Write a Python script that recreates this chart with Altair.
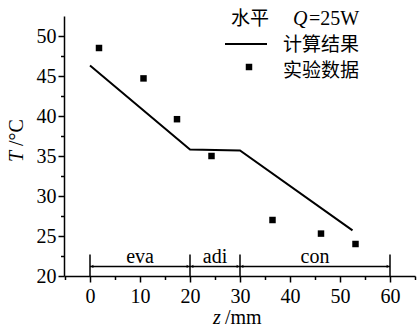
import altair as alt
import pandas as pd

# ---- data ----
z_exp = [1.8, 10.7, 17.4, 24.3, 36.5, 46.2, 53.1]
T_exp = [48.5, 44.7, 39.6, 35.0, 27.0, 25.3, 24.0]
z_calc = [0, 20, 30, 52.5]
T_calc = [46.3, 35.8, 35.7, 25.7]
zone_names = ["eva", "adi", "con"]
zone_starts = [0, 20, 30]
zone_ends = [20, 30, 60]
zone_bounds = [0, 20, 30, 60]
x_major = [0, 10, 20, 30, 40, 50, 60]
x_minor = [-5, 5, 15, 25, 35, 45, 55, 65]
y_major = [20, 25, 30, 35, 40, 45, 50]
y_minor = [22.5, 27.5, 32.5, 37.5, 42.5, 47.5]

SERIF = "Liberation Serif"
CJK = "Noto Sans CJK SC"
FS = 20

xs = alt.Scale(domain=[-5.2, 65], nice=False, zero=False)
ys = alt.Scale(domain=[20, 52.5], nice=False, zero=False)

df_calc = pd.DataFrame({"z": z_calc, "T": T_calc})
df_exp = pd.DataFrame({"z": z_exp, "T": T_exp})
df_zone = pd.DataFrame({
    "name": zone_names,
    "start": zone_starts,
    "end": zone_ends,
    "mid": [(a + b) / 2 for a, b in zip(zone_starts, zone_ends)],
})
df_bounds = pd.DataFrame({"z": zone_bounds})
one = pd.DataFrame({"a": [0]})

ax_x_major = alt.Axis(values=x_major, orient="bottom", tickSize=6, tickWidth=1.5,
                      domainWidth=1.5, domainColor="black", tickColor="black",
                      labelFont=SERIF, labelFontSize=FS, labelColor="black",
                      labelPadding=4, grid=False, title=None, format="d",
                      labelOverlap=False)
ax_y_major = alt.Axis(values=y_major, orient="left", tickSize=6, tickWidth=1.5,
                      domainWidth=1.5, domainColor="black", tickColor="black",
                      labelFont=SERIF, labelFontSize=FS, labelColor="black",
                      labelPadding=2, grid=False, title=None, format="d",
                      labelOverlap=False)
ax_x_minor = alt.Axis(values=x_minor, orient="bottom", tickSize=3.5, tickWidth=1.5,
                      tickColor="black", labels=False, domain=False, grid=False,
                      title=None)
ax_y_minor = alt.Axis(values=y_minor, orient="left", tickSize=3.5, tickWidth=1.5,
                      tickColor="black", labels=False, domain=False, grid=False,
                      title=None)

line = alt.Chart(df_calc).mark_line(color="black", strokeWidth=2).encode(
    x=alt.X("z:Q", scale=xs, axis=ax_x_major),
    y=alt.Y("T:Q", scale=ys, axis=ax_y_major),
)
minor = alt.Chart(df_calc).mark_point(opacity=0).encode(
    x=alt.X("z:Q", scale=xs, axis=ax_x_minor),
    y=alt.Y("T:Q", scale=ys, axis=ax_y_minor),
)
pts = alt.Chart(df_exp).mark_square(color="black", size=42, opacity=1).encode(
    x=alt.X("z:Q", scale=xs, axis=None),
    y=alt.Y("T:Q", scale=ys, axis=None),
)
bounds = alt.Chart(df_bounds).mark_rule(color="black", strokeWidth=1.5).encode(
    x=alt.X("z:Q", scale=xs, axis=None),
    y=alt.Y(datum=20, scale=ys, axis=None),
    y2=alt.Y2(datum=22.7),
)
spans = alt.Chart(df_zone).mark_rule(color="black", strokeWidth=1.5).encode(
    x=alt.X("start:Q", scale=xs, axis=None),
    x2="end:Q",
    y=alt.Y(datum=21.2, scale=ys, axis=None),
)
arrow_l = alt.Chart(df_zone).mark_point(shape="triangle-left", filled=True,
                                        color="black", size=10, opacity=1, xOffset=2).encode(
    x=alt.X("start:Q", scale=xs, axis=None),
    y=alt.Y(datum=21.2, scale=ys, axis=None),
)
arrow_r = alt.Chart(df_zone).mark_point(shape="triangle-right", filled=True,
                                        color="black", size=10, opacity=1, xOffset=-2).encode(
    x=alt.X("end:Q", scale=xs, axis=None),
    y=alt.Y(datum=21.2, scale=ys, axis=None),
)
zone_txt = alt.Chart(df_zone).mark_text(font=SERIF, fontSize=FS, color="black",
                                        baseline="alphabetic", align="center").encode(
    x=alt.X("mid:Q", scale=xs, axis=None),
    y=alt.Y(datum=21.6, scale=ys, axis=None),
    text="name:N",
)

def txt(s, x, y, font=SERIF, style="normal", align="left", size=FS, angle=0):
    return alt.Chart(one).mark_text(text=s, font=font, fontStyle=style, fontSize=size,
                                    align=align, baseline="middle", color="black",
                                    angle=angle).encode(
        x=alt.value(x), y=alt.value(y))

legend = [
    txt("水平", 186, 3, font=CJK, align="center", size=19),
    txt("Q", 229, 3, style="italic", size=20),
    txt("=25W", 245, 3, size=20),
    alt.Chart(one).mark_rule(color="black", strokeWidth=2).encode(
        x=alt.value(161), x2=alt.value(203), y=alt.value(28)),
    txt("计算结果", 219, 29, font=CJK, size=19),
    alt.Chart(one).mark_square(color="black", size=42, opacity=1).encode(
        x=alt.value(185), y=alt.value(51)),
    txt("实验数据", 219, 55, font=CJK, size=19),
]
titles = [
    txt("T", -47, 146, style="italic", size=20, angle=270),
    txt("/°C", -47, 130, size=20, angle=270),
    txt("z", 149, 302, style="italic", size=20),
    txt("/mm", 161, 302, size=20),
]

chart = alt.layer(line, minor, pts, bounds, spans, arrow_l, arrow_r, zone_txt,
                  *legend, *titles).resolve_axis(
    x="independent", y="independent"
).properties(
    width=351, height=260,
    autosize=alt.AutoSizeParams(type="none"),
    padding={"left": 64, "top": 16, "right": 2, "bottom": 52},
).configure_view(stroke=None)

chart.save("out.html", embed_options={"renderer": "svg", "actions": False})
